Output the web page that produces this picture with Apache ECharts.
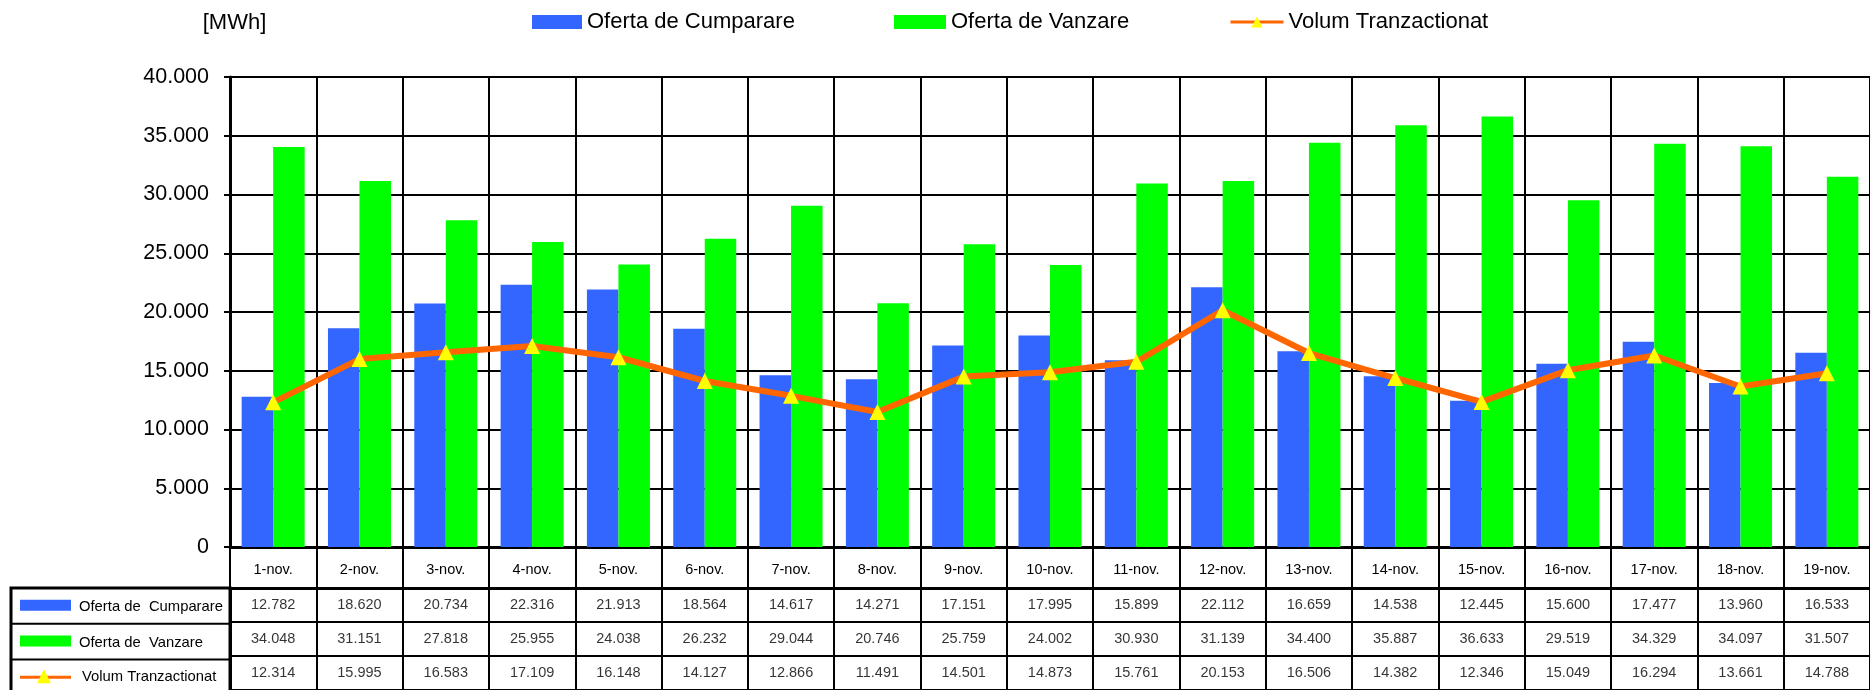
<!DOCTYPE html>
<html>
<head>
<meta charset="utf-8">
<script src="https://cdn.jsdelivr.net/npm/echarts@6/dist/echarts.min.js"></script>
<style>
html,body{margin:0;padding:0;background:#fff;}
#chart{width:1870px;height:690px;}
</style>
</head>
<body>
<div id="chart"></div>
<script>
// ---- data ----
const categories = ['1-nov.','2-nov.','3-nov.','4-nov.','5-nov.','6-nov.','7-nov.','8-nov.','9-nov.','10-nov.','11-nov.','12-nov.','13-nov.','14-nov.','15-nov.','16-nov.','17-nov.','18-nov.','19-nov.'];
const ofertaCumparare = [12782,18620,20734,22316,21913,18564,14617,14271,17151,17995,15899,22112,16659,14538,12445,15600,17477,13960,16533];
const ofertaVanzare = [34048,31151,27818,25955,24038,26232,29044,20746,25759,24002,30930,31139,34400,35887,36633,29519,34329,34097,31507];
const volumTranzactionat = [12314,15995,16583,17109,16148,14127,12866,11491,14501,14873,15761,20153,16506,14382,12346,15049,16294,13661,14788];
const seriesNames = ['Oferta de Cumparare','Oferta de Vanzare','Volum Tranzactionat'];
const tableRowLabels = ['Oferta de  Cumparare','Oferta de  Vanzare','Volum Tranzactionat'];
const yMin = 0, yMax = 40000, yStep = 5000;
const unitLabel = '[MWh]';

// ---- helpers ----
const FONT = "'Liberation Sans', Arial, sans-serif";
function fmt(v){ return String(v).replace(/\B(?=(\d{3})+(?!\d))/g,'.'); }
const BLUE = '#3366FF', GREEN = '#00FF00', ORANGE = '#FF6600', YELLOW = '#FFFF00';

const rows = [ofertaCumparare, ofertaVanzare, volumTranzactionat];
const tableData = [];
rows.forEach((arr, r) => arr.forEach((v, i) => tableData.push([i, r, v])));

// layout
const L = 230, T = 77, B = 547, COLW = 86.55;
const W = COLW * categories.length;
const TT = 588, ROWH = 35.7;

const chart = echarts.init(document.getElementById('chart'), null, {renderer:'canvas'});
const legendText = {fontSize: 22, fontFamily: FONT, color: '#000'};
const option = {
  animation: false,
  backgroundColor: '#fff',
  legend: [
    {data:[seriesNames[0]], left:532, top:11, padding:0, icon:'rect', itemWidth:50, itemHeight:14, selectedMode:false, textStyle:legendText},
    {data:[seriesNames[1]], left:894, top:11, padding:0, icon:'rect', itemWidth:52, itemHeight:14, selectedMode:false, textStyle:legendText},
    {data:[seriesNames[2]], left:1229, top:11, padding:0, itemWidth:53, itemHeight:14, selectedMode:false, textStyle:legendText, lineStyle:{width:3}}
  ],
  grid: [
    {left:L, top:T, width:W, height:B-T, containLabel:false},
    {left:L, top:TT, width:W, height:ROWH*3, containLabel:false}
  ],
  xAxis: [
    {type:'category', gridIndex:0, data:categories, boundaryGap:true,
     axisLine:{show:true, lineStyle:{color:'#000', width:3}},
     axisTick:{show:true, length:41, interval:0, lineStyle:{color:'#000', width:2}},
     axisLabel:{show:true, interval:0, margin:15, fontSize:14.5, fontFamily:FONT, color:'#000'},
     splitLine:{show:true, interval:0, lineStyle:{color:'#000', width:2}}},
    {type:'category', gridIndex:1, data:categories, boundaryGap:true, position:'top',
     axisLine:{show:true, lineStyle:{color:'#000', width:3}},
     axisTick:{show:false}, axisLabel:{show:false},
     splitLine:{show:true, interval:0, lineStyle:{color:'#000', width:2}}}
  ],
  yAxis: [
    {type:'value', gridIndex:0, min:yMin, max:yMax, interval:yStep,
     name:unitLabel, nameLocation:'end', nameGap:43,
     nameTextStyle:{fontSize:22, fontFamily:FONT, color:'#000', align:'center', padding:[0,0,0,9]},
     axisLine:{show:true, lineStyle:{color:'#000', width:3}},
     axisTick:{show:true, length:6, lineStyle:{color:'#000', width:2}},
     axisLabel:{margin:21, fontSize:21.5, fontFamily:FONT, color:'#000', formatter:v=>fmt(v)},
     splitLine:{show:true, lineStyle:{color:'#000', width:2}}},
    {type:'category', gridIndex:1, inverse:true, data:['r0','r1','r2'], boundaryGap:true,
     axisLine:{show:true, lineStyle:{color:'#000', width:3}},
     axisTick:{show:false}, axisLabel:{show:false},
     splitLine:{show:true, interval:0, lineStyle:{color:'#000', width:2}}}
  ],
  series: [
    {name:seriesNames[0], type:'bar', xAxisIndex:0, yAxisIndex:0, data:ofertaCumparare,
     barGap:'0%', barCategoryGap:'27%', itemStyle:{color:BLUE}, z:2},
    {name:seriesNames[1], type:'bar', xAxisIndex:0, yAxisIndex:0, data:ofertaVanzare,
     barGap:'0%', barCategoryGap:'27%', itemStyle:{color:GREEN}, z:2},
    {name:seriesNames[2], type:'line', xAxisIndex:0, yAxisIndex:0, data:volumTranzactionat,
     lineStyle:{color:ORANGE, width:6}, itemStyle:{color:YELLOW},
     symbol:'triangle', symbolSize:[16,16], showAllSymbol:true, z:5},
    {name:'table', type:'scatter', xAxisIndex:1, yAxisIndex:1, data:tableData,
     symbolSize:1, itemStyle:{color:'rgba(0,0,0,0)'}, silent:true,
     label:{show:true, position:'inside', fontSize:14.5, fontFamily:FONT, color:'#000',
            formatter:p=>fmt(p.value[2])}}
  ],
  graphic: [
    {type:'rect', shape:{x:11, y:TT, width:L-11, height:ROWH*3}, style:{fill:'none', stroke:'#000', lineWidth:3}, z:10},
    {type:'line', shape:{x1:11, y1:TT+ROWH, x2:L, y2:TT+ROWH}, style:{stroke:'#000', lineWidth:2}, z:10},
    {type:'line', shape:{x1:11, y1:TT+ROWH*2, x2:L, y2:TT+ROWH*2}, style:{stroke:'#000', lineWidth:2}, z:10},
    {type:'rect', shape:{x:20, y:TT+ROWH*0.5-6, width:51, height:11}, style:{fill:BLUE}, z:10},
    {type:'rect', shape:{x:20, y:TT+ROWH*1.5-6, width:51, height:11}, style:{fill:GREEN}, z:10},
    {type:'line', shape:{x1:20, y1:TT+ROWH*2.5, x2:71, y2:TT+ROWH*2.5}, style:{stroke:ORANGE, lineWidth:3}, z:10},
    {type:'polygon', shape:{points:[[44,TT+ROWH*2.5-8],[37,TT+ROWH*2.5+6],[51,TT+ROWH*2.5+6]]}, style:{fill:YELLOW}, z:11},
    {type:'text', x:79, y:TT+ROWH*0.5+1, style:{text:tableRowLabels[0], fontSize:14.8, fontFamily:FONT, fill:'#000', verticalAlign:'middle'}, z:10},
    {type:'text', x:79, y:TT+ROWH*1.5+1, style:{text:tableRowLabels[1], fontSize:14.8, fontFamily:FONT, fill:'#000', verticalAlign:'middle'}, z:10},
    {type:'text', x:82, y:TT+ROWH*2.5, style:{text:tableRowLabels[2], fontSize:14.8, fontFamily:FONT, fill:'#000', verticalAlign:'middle'}, z:10}
  ]
};
chart.setOption(option);
</script>
</body>
</html>
